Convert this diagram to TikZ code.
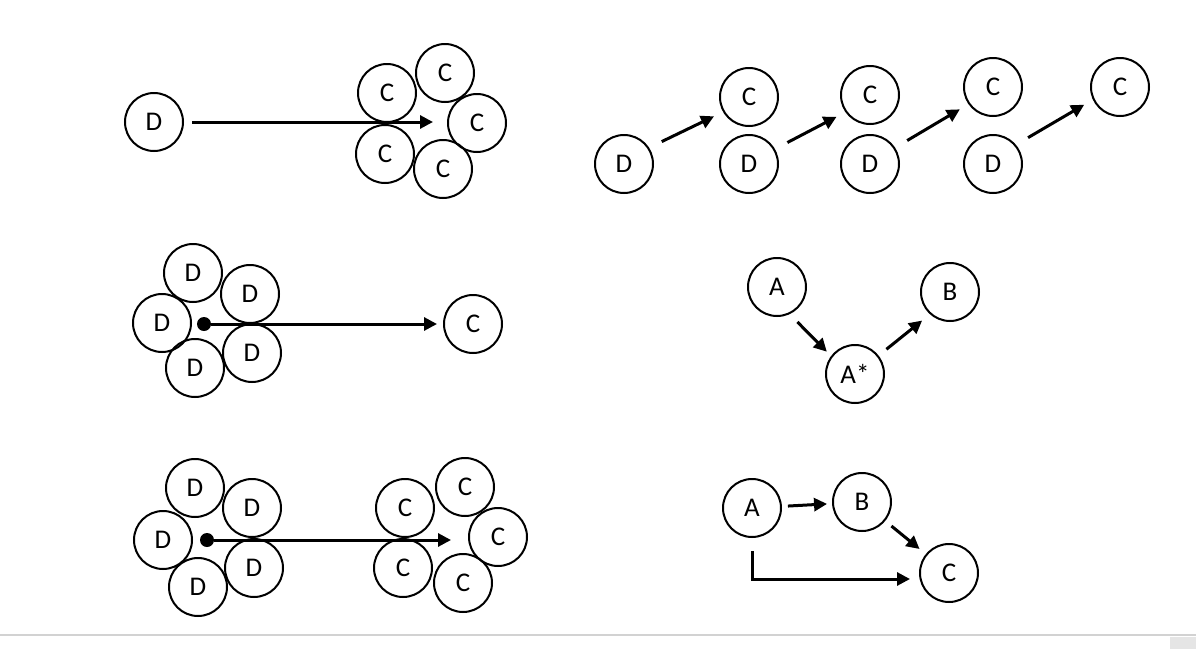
\documentclass[tikz,border=0pt]{standalone}
\usepackage{fontspec}
\setmainfont{Carlito}
\usetikzlibrary{arrows.meta,positioning}

\begin{document}
\begin{tikzpicture}[
  x=0.5pt,y=-0.5pt,
  ball/.style={draw,circle,line width=1pt,minimum size=29pt,inner sep=0pt,font=\fontsize{13.5}{15}\selectfont},
  arr/.style={-{Triangle[length=6.5pt,width=6.5pt]},line width=1.5pt},
  dot/.style={circle,fill,inner sep=0pt,minimum size=7pt}
]
\useasboundingbox (0,0) rectangle (1196,649);

% one D towards a ring of C
\node[ball] (d1)  at (154,122) {D};
\node[ball] (c1a) at (387,93)  {C};
\node[ball] (c1b) at (445,73)  {C};
\node[ball] (c1c) at (477,123) {C};
\node[ball] (c1d) at (385,154) {C};
\node[ball] (c1e) at (443,169) {C};
\coordinate (t1) at (433,122);
\draw[arr,shorten <=4pt] (d1) -- (t1);

% D to C, step by step
\node[ball] (d2a) at (624,164)  {D};
\node[ball] (c2a) at (749,97)   {C};
\node[ball] (d2b) at (749,164)  {D};
\node[ball] (c2b) at (870,95)   {C};
\node[ball] (d2c) at (870,164)  {D};
\node[ball] (c2c) at (993,87)   {C};
\node[ball] (d2d) at (993,164)  {D};
\node[ball] (c2d) at (1120,87)  {C};
\draw[arr,shorten <=7pt,shorten >=5pt] (d2a.33) -- (c2a.210);
\draw[arr,shorten <=7pt,shorten >=5pt] (d2b.30) -- (c2b.215);
\draw[arr,shorten <=7pt,shorten >=5pt] (d2c.33) -- (c2c.215);
\draw[arr,shorten <=7pt,shorten >=5pt] (d2d.40) -- (c2d.205);

% ring of D towards one C
\node[ball] (d3a) at (193,273) {D};
\node[ball] (d3b) at (250,294) {D};
\node[ball] (d3c) at (162,323) {D};
\node[ball] (d3d) at (195,368) {D};
\node[ball] (d3e) at (252,353) {D};
\node[dot]  (p3)  at (204,324) {};
\node[ball] (c3)  at (473,324) {C};
\draw[arr,shorten >=3pt] (p3) -- (c3);

% A -> A* -> B
\node[ball] (a4)  at (777,287) {A};
\node[ball] (as4) at (855,374) {A*};
\node[ball] (b4)  at (950,292) {B};
\draw[arr,shorten <=5.5pt,shorten >=3pt] (a4.-65) -- (as4.143);
\draw[arr,shorten <=5pt,shorten >=5pt] (as4.38) -- (b4.228);

% ring of D towards a ring of C
\node[ball] (d5a) at (195,488) {D};
\node[ball] (d5b) at (252,508) {D};
\node[ball] (d5c) at (163,540) {D};
\node[ball] (d5d) at (198,587) {D};
\node[ball] (d5e) at (254,568) {D};
\node[dot]  (p5)  at (207,540) {};
\node[ball] (c5a) at (405,508) {C};
\node[ball] (c5b) at (465,487) {C};
\node[ball] (c5c) at (498,537) {C};
\node[ball] (c5d) at (403,568) {C};
\node[ball] (c5e) at (463,583) {C};
\coordinate (t5) at (451,540);
\draw[arr] (p5) -- (t5);

% A -> B -> C, and A -> C
\node[ball] (a6) at (752,508) {A};
\node[ball] (b6) at (862,502) {B};
\node[ball] (c6) at (949,573) {C};
\draw[arr,shorten <=3pt,shorten >=2.5pt] (a6) -- (b6);
\draw[arr,shorten <=4pt,shorten >=4pt] (b6) -- (c6);
\draw[arr,shorten <=6.5pt,shorten >=4.5pt] (a6.south) |- ([yshift=-3pt]c6.west);

% page edge
\draw[gray!35,line width=1pt] (0,635) -- (1196,635);
\fill[gray!20] (1170,637) rectangle (1196,649);
\end{tikzpicture}
\end{document}
